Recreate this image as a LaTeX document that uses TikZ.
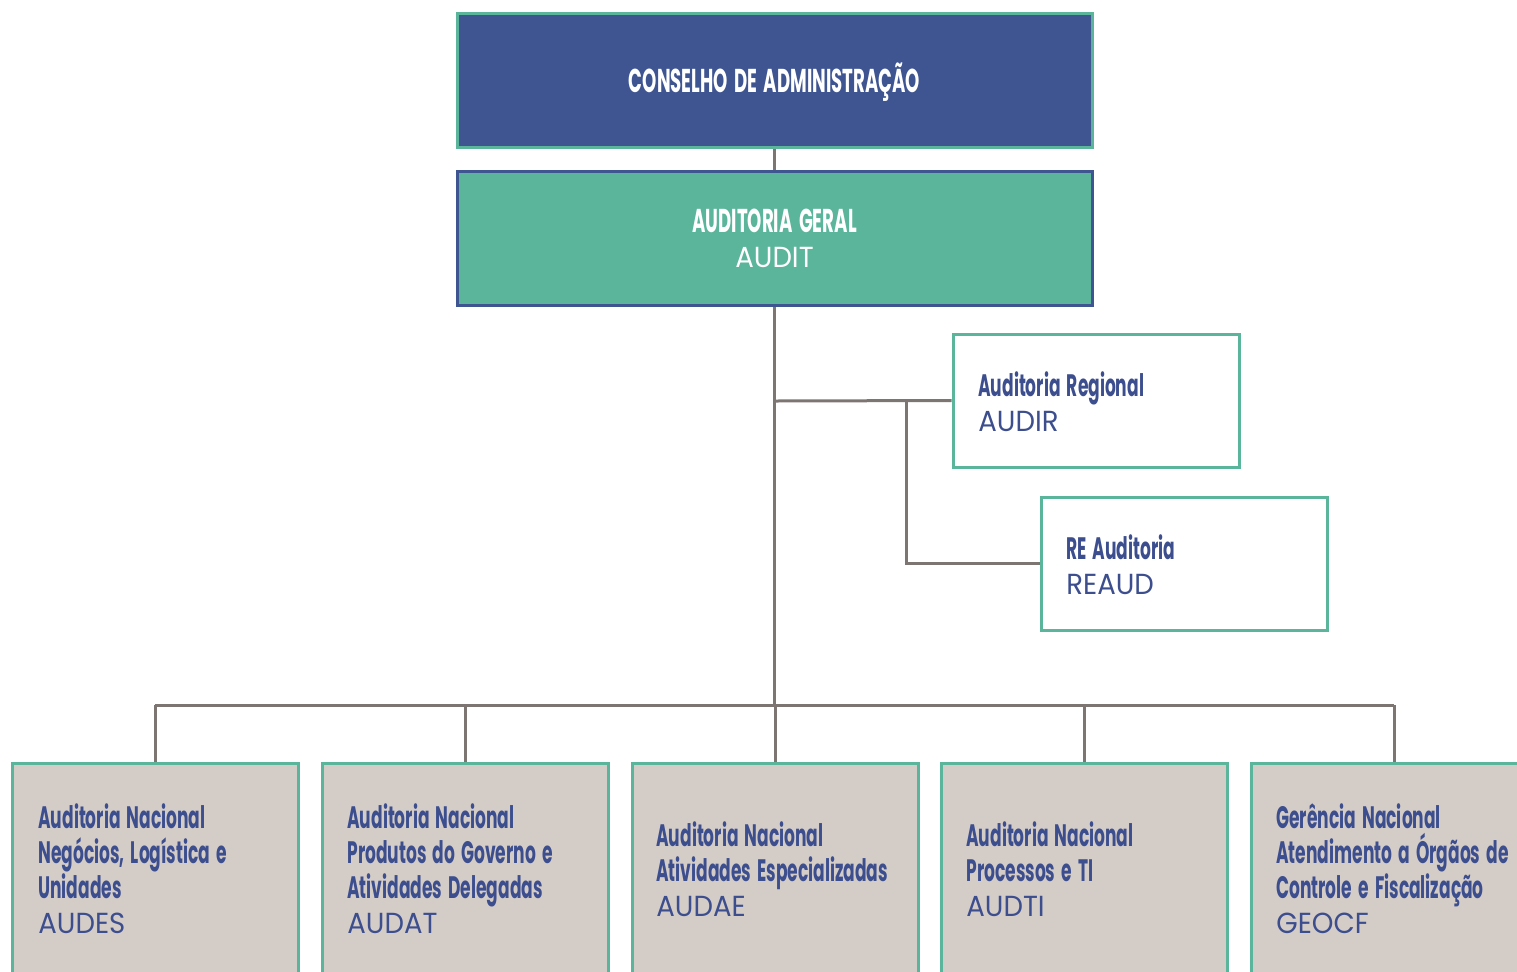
\documentclass[tikz,border=0pt]{standalone}
\usepackage{fontspec}
\setmainfont{Poppins}
\newfontfamily\condfont[FakeStretch=0.55, WordSpace=1.7]{Poppins}
\newfontfamily\lightfont[FakeStretch=0.95]{Poppins}
\definecolor{cblue}{HTML}{3F5592}
\definecolor{cteal}{HTML}{5BB59A}
\definecolor{cline}{HTML}{7D7572}
\definecolor{cgrey}{HTML}{D4CCC7}
\definecolor{ctext}{HTML}{3C4E8E}
\tikzset{
  conn/.style={draw=cline, line width=1.5pt},
  boxbase/.style={rectangle, line width=1.5pt, inner sep=0pt},
  topbox/.style={boxbase, fill=cblue, draw=cteal, minimum width=317.5pt, minimum height=67pt},
  auditbox/.style={boxbase, fill=cteal, draw=cblue, minimum width=317.5pt, minimum height=67pt},
  sidebox/.style={boxbase, fill=white, draw=cteal, minimum width=143pt, minimum height=66.5pt},
  unitbox/.style={boxbase, fill=cgrey, draw=cteal, minimum width=143pt, minimum height=130pt},
  lbl/.style={inner sep=0pt, align=left, anchor=west, text=ctext, font=\fontsize{15.5}{17.5}\selectfont},
  ttl/.style={inner sep=0pt, align=center, text=white, font=\fontsize{16.5}{17.5}\selectfont},
}
\newcommand{\hd}[1]{{\condfont\bfseries #1}}
\newcommand{\cd}[1]{{\lightfont\fontsize{14.5}{17.5}\selectfont #1}}
\begin{document}
\begin{tikzpicture}[x=0.5pt, y=-0.5pt]
\clip (0,0) rectangle (1517,971);
\fill[white] (0,0) rectangle (1517,971);
% boxes
\node[topbox] (top) at (774.5,80) {};
\node[auditbox] (audit) at (774.5,238) {};
\node[sidebox] (audir) at (1096,400.5) {};
\node[sidebox] (reaud) at (1184,563.5) {};
\node[unitbox] (b1) at (155,893) {};
\node[unitbox] (b2) at (465,893) {};
\node[unitbox] (b3) at (775,893) {};
\node[unitbox] (b4) at (1084,893) {};
\node[unitbox] (b5) at (1394,893) {};
% connectors
\coordinate (bus) at (774.5,705);
\coordinate (j1) at (774.5,401);
\coordinate (j2) at (906,401);
\draw[conn] (top.south) -- (audit.north);
\draw[conn] (audit.south) -- (bus);
\draw[conn] (j1) -- (audir.west);
\draw[conn] (j2) |- (reaud.west);
\draw[conn] (b1.north |- bus) -- (b5.north |- bus);
\foreach \b in {b1,b2,b3,b4,b5} { \draw[conn] (\b.north |- bus) -- (\b.north); }
% redraw boxes on top of connectors
\node[topbox] at (top) {};
\node[auditbox] at (audit) {};
\node[sidebox] at (audir) {};
\node[sidebox] at (reaud) {};
\foreach \b in {b1,b2,b3,b4,b5} { \node[unitbox] at (\b) {}; }
% texts
\node[ttl] (ttop) at (774.5,82) {\hd{CONSELHO DE ADMINISTRAÇÃO}};
\node[ttl] (taudit) at (774.5,238) {\hd{AUDITORIA GERAL}\\\cd{AUDIT}};
\node[lbl] (taudir) at (978,402) {\hd{Auditoria Regional}\\\cd{AUDIR}};
\node[lbl] (treaud) at (1066,565) {\hd{RE Auditoria}\\\cd{REAUD}};
\node[lbl] (t1) at (38,869) {\hd{Auditoria Nacional}\\\hd{Negócios, Logística e}\\\hd{Unidades}\\\cd{AUDES}};
\node[lbl] (t2) at (347,869) {\hd{Auditoria Nacional}\\\hd{Produtos do Governo e}\\\hd{Atividades Delegadas}\\\cd{AUDAT}};
\node[lbl] (t3) at (656,869) {\hd{Auditoria Nacional}\\\hd{Atividades Especializadas}\\\cd{AUDAE}};
\node[lbl] (t4) at (966,869) {\hd{Auditoria Nacional}\\\hd{Processos e TI}\\\cd{AUDTI}};
\node[lbl] (t5) at (1276,869) {\hd{Gerência Nacional}\\\hd{Atendimento a Órgãos de}\\\hd{Controle e Fiscalização}\\\cd{GEOCF}};
\end{tikzpicture}
\end{document}
